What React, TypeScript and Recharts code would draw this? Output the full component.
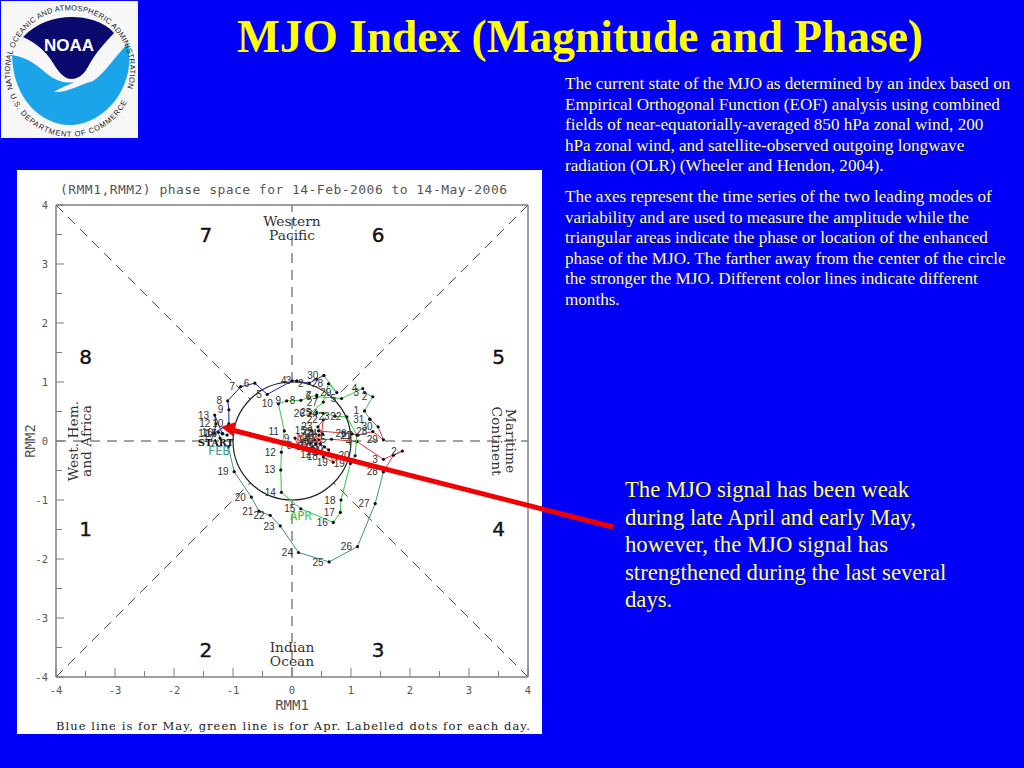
import React from "react";
import { ScatterChart, Scatter, XAxis, YAxis, ReferenceLine, ReferenceDot, LabelList, Label } from "recharts";

const feb = [
  { day: "", x: -1.1, y: 0.1 }, { day: "15", x: -1.18, y: 0.13 }, { day: "16", x: -1.25, y: 0.15 }, { day: "17", x: -1.22, y: 0.05 },
  { day: "", x: -1.08, y: -0.1 }, { day: "19", x: -0.98, y: -0.52 }, { day: "20", x: -0.69, y: -0.95 }, { day: "21", x: -0.56, y: -1.19 },
  { day: "22", x: -0.37, y: -1.26 }, { day: "23", x: -0.2, y: -1.44 }, { day: "24", x: 0.11, y: -1.89 }, { day: "25", x: 0.63, y: -2.05 },
  { day: "26", x: 1.11, y: -1.79 }, { day: "27", x: 1.41, y: -1.06 }, { day: "28", x: 1.55, y: -0.52 },
];
const mar = [
  { day: "", x: 1.55, y: -0.52 }, { day: "", x: 1.72, y: -0.24 }, { day: "2", x: 1.87, y: -0.17 }, { day: "3", x: 1.55, y: -0.31 },
  { day: "4", x: 1.1, y: -0.01 }, { day: "5", x: 0.67, y: 0.03 }, { day: "6", x: 0.45, y: 0.02 }, { day: "7", x: 0.31, y: -0.04 },
  { day: "8", x: 0.1, y: -0.08 }, { day: "9", x: 0.05, y: 0.05 }, { day: "10", x: 0.35, y: -0.1 }, { day: "11", x: 0.5, y: -0.18 },
  { day: "12", x: 0.42, y: -0.22 }, { day: "13", x: 0.55, y: -0.1 }, { day: "14", x: 0.38, y: 0.02 }, { day: "15", x: 0.33, y: 0.18 },
  { day: "16", x: 0.46, y: 0.1 }, { day: "17", x: 0.4, y: -0.05 }, { day: "18", x: 0.53, y: -0.27 }, { day: "19", x: 0.7, y: -0.36 },
  { day: "20", x: 0.62, y: -0.15 }, { day: "21", x: 0.48, y: -0.05 }, { day: "22", x: 0.53, y: 0.36 }, { day: "23", x: 0.44, y: 0.24 },
  { day: "24", x: 0.52, y: 0.12 }, { day: "25", x: 0.45, y: 0.17 }, { day: "26", x: 1.02, y: 0.12 }, { day: "27", x: 1.12, y: 0.1 },
  { day: "28", x: 1.37, y: 0.16 }, { day: "29", x: 1.55, y: 0.02 }, { day: "30", x: 1.46, y: 0.24 }, { day: "31", x: 1.32, y: 0.37 },
];
const apr = [
  { day: "", x: 1.32, y: 0.37 }, { day: "1", x: 1.23, y: 0.51 }, { day: "2", x: 1.37, y: 0.75 }, { day: "3", x: 1.23, y: 0.82 },
  { day: "4", x: 1.2, y: 0.89 }, { day: "5", x: 0.84, y: 0.72 }, { day: "6", x: 0.42, y: 0.75 }, { day: "7", x: 0.42, y: 0.78 },
  { day: "8", x: 0.15, y: 0.69 }, { day: "9", x: -0.09, y: 0.68 }, { day: "10", x: -0.23, y: 0.63 }, { day: "11", x: -0.13, y: 0.17 },
  { day: "12", x: -0.18, y: -0.19 }, { day: "13", x: -0.19, y: -0.49 }, { day: "14", x: -0.18, y: -0.87 }, { day: "15", x: 0.15, y: -1.15 },
  { day: "16", x: 0.7, y: -1.38 }, { day: "17", x: 0.82, y: -1.21 }, { day: "18", x: 0.83, y: -1.0 }, { day: "19", x: 0.99, y: -0.38 },
  { day: "20", x: 1.07, y: -0.25 }, { day: "21", x: 1.1, y: 0.1 }, { day: "22", x: 0.93, y: 0.41 }, { day: "23", x: 0.73, y: 0.42 },
  { day: "24", x: 0.53, y: 0.47 }, { day: "25", x: 0.42, y: 0.48 }, { day: "26", x: 0.31, y: 0.47 }, { day: "27", x: 0.53, y: 0.66 },
  { day: "28", x: 0.62, y: 0.97 }, { day: "29", x: 0.76, y: 0.82 }, { day: "30", x: 0.54, y: 1.11 },
];
const may = [
  { day: "", x: 0.54, y: 1.11 }, { day: "", x: 0.42, y: 1.05 }, { day: "2", x: 0.29, y: 0.98 }, { day: "3", x: 0.08, y: 1.02 },
  { day: "4", x: 0, y: 1.02 }, { day: "5", x: -0.42, y: 0.79 }, { day: "6", x: -0.63, y: 0.98 }, { day: "7", x: -0.87, y: 0.92 },
  { day: "8", x: -1.09, y: 0.68 }, { day: "9", x: -1.07, y: 0.53 }, { day: "10", x: -1.07, y: 0.29 }, { day: "11", x: -1.32, y: 0.13 },
  { day: "12", x: -1.29, y: 0.29 }, { day: "13", x: -1.31, y: 0.44 }, { day: "14", x: -1.18, y: 0.12 },
];

const axisTicks = [-4, -3.5, -3, -2.5, -2, -1.5, -1, -0.5, 0, 0.5, 1, 1.5, 2, 2.5, 3, 3.5, 4];
const guideSegments = [
  [[-4, 0], [-1, 0]], [[1, 0], [4, 0]], [[0, 1], [0, 4]], [[0, -4], [0, -1]],
  [[-4, -4], [-0.707, -0.707]], [[4, 4], [0.707, 0.707]], [[-4, 4], [-0.707, 0.707]], [[4, -4], [0.707, -0.707]],
];
const phaseNumbers = [
  { t: "7", x: -1.46, y: 3.49 }, { t: "6", x: 1.46, y: 3.49 }, { t: "8", x: -3.5, y: 1.42 }, { t: "5", x: 3.5, y: 1.42 },
  { t: "1", x: -3.5, y: -1.49 }, { t: "4", x: 3.5, y: -1.49 }, { t: "2", x: -1.46, y: -3.54 }, { t: "3", x: 1.46, y: -3.54 },
];
const regionLabels = [
  { t: "Western", x: 0, y: 3.71, a: 0 }, { t: "Pacific", x: 0, y: 3.47, a: 0 },
  { t: "Indian", x: 0, y: -3.5, a: 0 }, { t: "Ocean", x: 0, y: -3.74, a: 0 },
  { t: "West. Hem.", x: -3.7, y: 0, a: -90 }, { t: "and Africa", x: -3.47, y: 0, a: -90 },
  { t: "Continent", x: 3.45, y: 0, a: 90 }, { t: "Maritime", x: 3.7, y: 0, a: 90 },
];
const monthLabels = [
  { t: "FEB", x: -1.24, y: -0.16, c: "#3f9a9a" }, { t: "MAR", x: 0.27, y: 0.07, c: "#d84040" }, { t: "APR", x: 0.15, y: -1.25, c: "#35c545" },
];
const bodyOne = [
  "The current state of the MJO as determined by an index based on",
  "Empirical Orthogonal Function (EOF) analysis using combined",
  "fields of near-equatorially-averaged 850 hPa zonal wind, 200",
  "hPa zonal wind, and satellite-observed outgoing longwave",
  "radiation (OLR) (Wheeler and Hendon, 2004).",
];
const bodyTwo = [
  "The axes represent the time series of the two leading modes of",
  "variability and are used to measure the amplitude while the",
  "triangular areas indicate the phase or location of the enhanced",
  "phase of the MJO. The farther away from the center of the circle",
  "the stronger the MJO. Different color lines indicate different",
  "months.",
];
const note = [
  "The MJO signal has been weak",
  "during late April and early May,",
  "however, the MJO signal has",
  "strengthened during the last several",
  "days.",
];

const MONO = "'DejaVu Sans Mono', monospace";
const SERIF = "'Liberation Serif', serif";
const SANS = "'Liberation Sans', sans-serif";
const GRAY = "#7f7f7f";

const XTick = (side: string) => (p: any) => {
  const v = p.payload.value;
  const major = Number.isInteger(v);
  const len = major ? 9 : 6;
  const dir = side === "bottom" ? -1 : 1;
  return (
    <g>
      <line x1={p.x} x2={p.x} y1={p.y} y2={p.y + dir * len} stroke={GRAY} />
      {side === "bottom" && major ? (
        <text x={p.x} y={p.y + 17} textAnchor="middle" fontFamily={MONO} fontSize={10.5} fill="#555">{v}</text>
      ) : null}
    </g>
  );
};
const YTick = (side: string) => (p: any) => {
  const v = p.payload.value;
  const major = Number.isInteger(v);
  const len = major ? 8 : 6;
  const dir = side === "left" ? 1 : -1;
  return (
    <g>
      <line x1={p.x} x2={p.x + dir * len} y1={p.y} y2={p.y} stroke={GRAY} />
      {side === "left" && major ? (
        <text x={p.x - 8} y={p.y + 4} textAnchor="end" fontFamily={MONO} fontSize={10.5} fill="#555">{v}</text>
      ) : null}
    </g>
  );
};
const dot = (p: any) => <circle cx={p.cx} cy={p.cy} r={1.6} fill="#111" />;

const series = [
  { name: "feb", data: feb, color: "#3f8f94" },
  { name: "mar", data: mar, color: "#d23a3a" },
  { name: "apr", data: apr, color: "#35c545" },
  { name: "may", data: may, color: "#2424b4" },
];

const axisLine = { stroke: GRAY, strokeWidth: 1.5 };

function Lines({ lines, top, left, size, lh, color }: any) {
  return (
    <div style={{ position: "absolute", top, left, fontFamily: SERIF, fontSize: size, lineHeight: lh + "px", color, whiteSpace: "nowrap" }}>
      {lines.map((l: string) => <div key={l}>{l}</div>)}
    </div>
  );
}

function Logo() {
  return (
    <svg width={137} height={137} style={{ position: "absolute", left: 1, top: 1 }}>
      <rect width={137} height={137} fill="#f7f7f7" />
      <path d="M11 54 C24 56 34 62 45 72 C54 80 66 83 74 81 C66 84 58 88 53 91 C65 92 78 84 92 80 C102 74 114 56 127 42 C130 58 129 78 116 97 C104 114 86 124 69 124 C42 124 12 100 11 54 Z" fill="#1ba4ea" />
      <path d="M22 36 C36 22 52 16 71 16 C85 16 103 20 113 32 C104 42 94 52 87 66 C82 75 76 78 70 78 C64 78 58 72 52 62 C46 52 36 42 22 36 Z" fill="#0a0a6e" />
      <text x={68} y={50} textAnchor="middle" fontFamily={SANS} fontWeight="bold" fontSize={17} fill="#fff">NOAA</text>
      <defs>
        <path id="ringTop" d="M12 88 A60 60 0 1 1 126 88" />
        <path id="ringBot" d="M9 94 A64 64 0 0 0 129 94" />
      </defs>
      <text fontFamily={SANS} fontSize={7.5} fill="#222"><textPath href="#ringTop" textLength={225} lengthAdjust="spacing">NATIONAL OCEANIC AND ATMOSPHERIC ADMINISTRATION</textPath></text>
      <text fontFamily={SANS} fontSize={7.5} fill="#222"><textPath href="#ringBot" textLength={148} lengthAdjust="spacing">U.S. DEPARTMENT OF COMMERCE</textPath></text>
    </svg>
  );
}

export default function App() {
  return (
    <div style={{ position: "fixed", left: 0, top: 0, width: 1024, height: 768, background: "#0000f8", overflow: "hidden" }}>
      <Logo />
      <div style={{ position: "absolute", left: 237, top: 12, fontFamily: SERIF, fontWeight: "bold", fontSize: 45.4, lineHeight: "50px", color: "#ffff00", whiteSpace: "nowrap" }}>
        MJO Index (Magnitude and Phase)
      </div>
      <Lines lines={bodyOne} top={74} left={565} size={17.1} lh={20.5} color="#ffff80" />
      <Lines lines={bodyTwo} top={187} left={565} size={17.1} lh={20.5} color="#ffff80" />
      <Lines lines={note} top={476} left={625} size={22.7} lh={27.5} color="#ffff55" />

      <div style={{ position: "absolute", left: 17, top: 170, width: 525, height: 564, background: "#fff" }}>
        <ScatterChart width={525} height={564} margin={{ top: 0, right: 0, bottom: 0, left: 0 }}>
          <XAxis xAxisId="b" type="number" dataKey="x" domain={[-4, 4]} ticks={axisTicks} interval={0} height={57} tickSize={0} tickMargin={0} axisLine={axisLine} tick={XTick("bottom")}>
            <Label value="RMM1" position="insideBottom" offset={24} fontFamily={MONO} fontSize={14} fill="#555" />
          </XAxis>
          <XAxis xAxisId="t" orientation="top" type="number" domain={[-4, 4]} ticks={axisTicks} interval={0} height={35} tickSize={0} tickMargin={0} axisLine={axisLine} tick={XTick("top")} />
          <YAxis yAxisId="l" type="number" dataKey="y" domain={[-4, 4]} ticks={axisTicks} interval={0} width={39} tickSize={0} tickMargin={0} axisLine={axisLine} tick={YTick("left")}>
            <Label value="RMM2" angle={-90} position="insideLeft" offset={13} fontFamily={MONO} fontSize={14} fill="#555" style={{ textAnchor: "middle" }} />
          </YAxis>
          <YAxis yAxisId="r" orientation="right" type="number" domain={[-4, 4]} ticks={axisTicks} interval={0} width={14} tickSize={0} tickMargin={0} axisLine={axisLine} tick={YTick("right")} />

          {guideSegments.map((s, i) => (
            <ReferenceLine key={i} xAxisId="b" yAxisId="l" segment={[{ x: s[0][0], y: s[0][1] }, { x: s[1][0], y: s[1][1] }]} stroke="#444" strokeDasharray="10 7" />
          ))}
          <ReferenceDot xAxisId="b" yAxisId="l" x={0} y={0} r={59} fill="none" stroke="#222" strokeWidth={1.2} />

          {series.map((s) => (
            <Scatter key={s.name} xAxisId="b" yAxisId="l" data={s.data} line={{ stroke: s.color, strokeWidth: 1 }} lineType="joint" shape={dot} isAnimationActive={false}>
              <LabelList dataKey="day" position="left" offset={1} fontFamily={SANS} fontSize={10} fill="#333" />
            </Scatter>
          ))}

          {phaseNumbers.map((d) => (
            <ReferenceDot key={d.t} xAxisId="b" yAxisId="l" x={d.x} y={d.y} r={0} shape={(p: any) => (
              <text x={p.cx} y={p.cy + 7} textAnchor="middle" fontFamily="'DejaVu Sans', sans-serif" fontSize={20} fill="#111" stroke="#111" strokeWidth={0.4}>{d.t}</text>
            )} />
          ))}
          {regionLabels.map((d) => (
            <ReferenceDot key={d.t} xAxisId="b" yAxisId="l" x={d.x} y={d.y} r={0} shape={(p: any) => (
              <text transform={`translate(${p.cx},${p.cy}) rotate(${d.a})`} y={4} textAnchor="middle" fontFamily="'DejaVu Serif', serif" fontSize={13.8} fill="#333">{d.t}</text>
            )} />
          ))}
          {monthLabels.map((d) => (
            <ReferenceDot key={d.t} xAxisId="b" yAxisId="l" x={d.x} y={d.y} r={0} shape={(p: any) => (
              <text x={p.cx} y={p.cy + 5} textAnchor="middle" fontFamily={MONO} fontSize={12} fill={d.c}>{d.t}</text>
            )} />
          ))}
          <ReferenceDot xAxisId="b" yAxisId="l" x={-1.29} y={-0.02} r={0} shape={(p: any) => (
            <text x={p.cx} y={p.cy + 4} textAnchor="middle" fontFamily="'DejaVu Serif', serif" fontWeight="bold" fontSize={9.5} fill="#111">START</text>
          )} />
        </ScatterChart>
      </div>

      <svg width={1024} height={768} style={{ position: "absolute", left: 0, top: 0, pointerEvents: "none" }}>
        <text x={60} y={194} textLength={447} fontFamily={MONO} fontSize={13} fill="#555">(RMM1,RMM2) phase space for 14-Feb-2006 to 14-May-2006</text>
        <text x={56} y={730} textLength={474} fontFamily="'DejaVu Serif', serif" fontSize={11.5} fill="#222">Blue line is for May, green line is for Apr. Labelled dots for each day.</text>
        <line x1={613} y1={527} x2={232} y2={430} stroke="#f00000" strokeWidth={5} />
        <polygon points="221,427 236,422 233,436" fill="#f00000" />
      </svg>
    </div>
  );
}
